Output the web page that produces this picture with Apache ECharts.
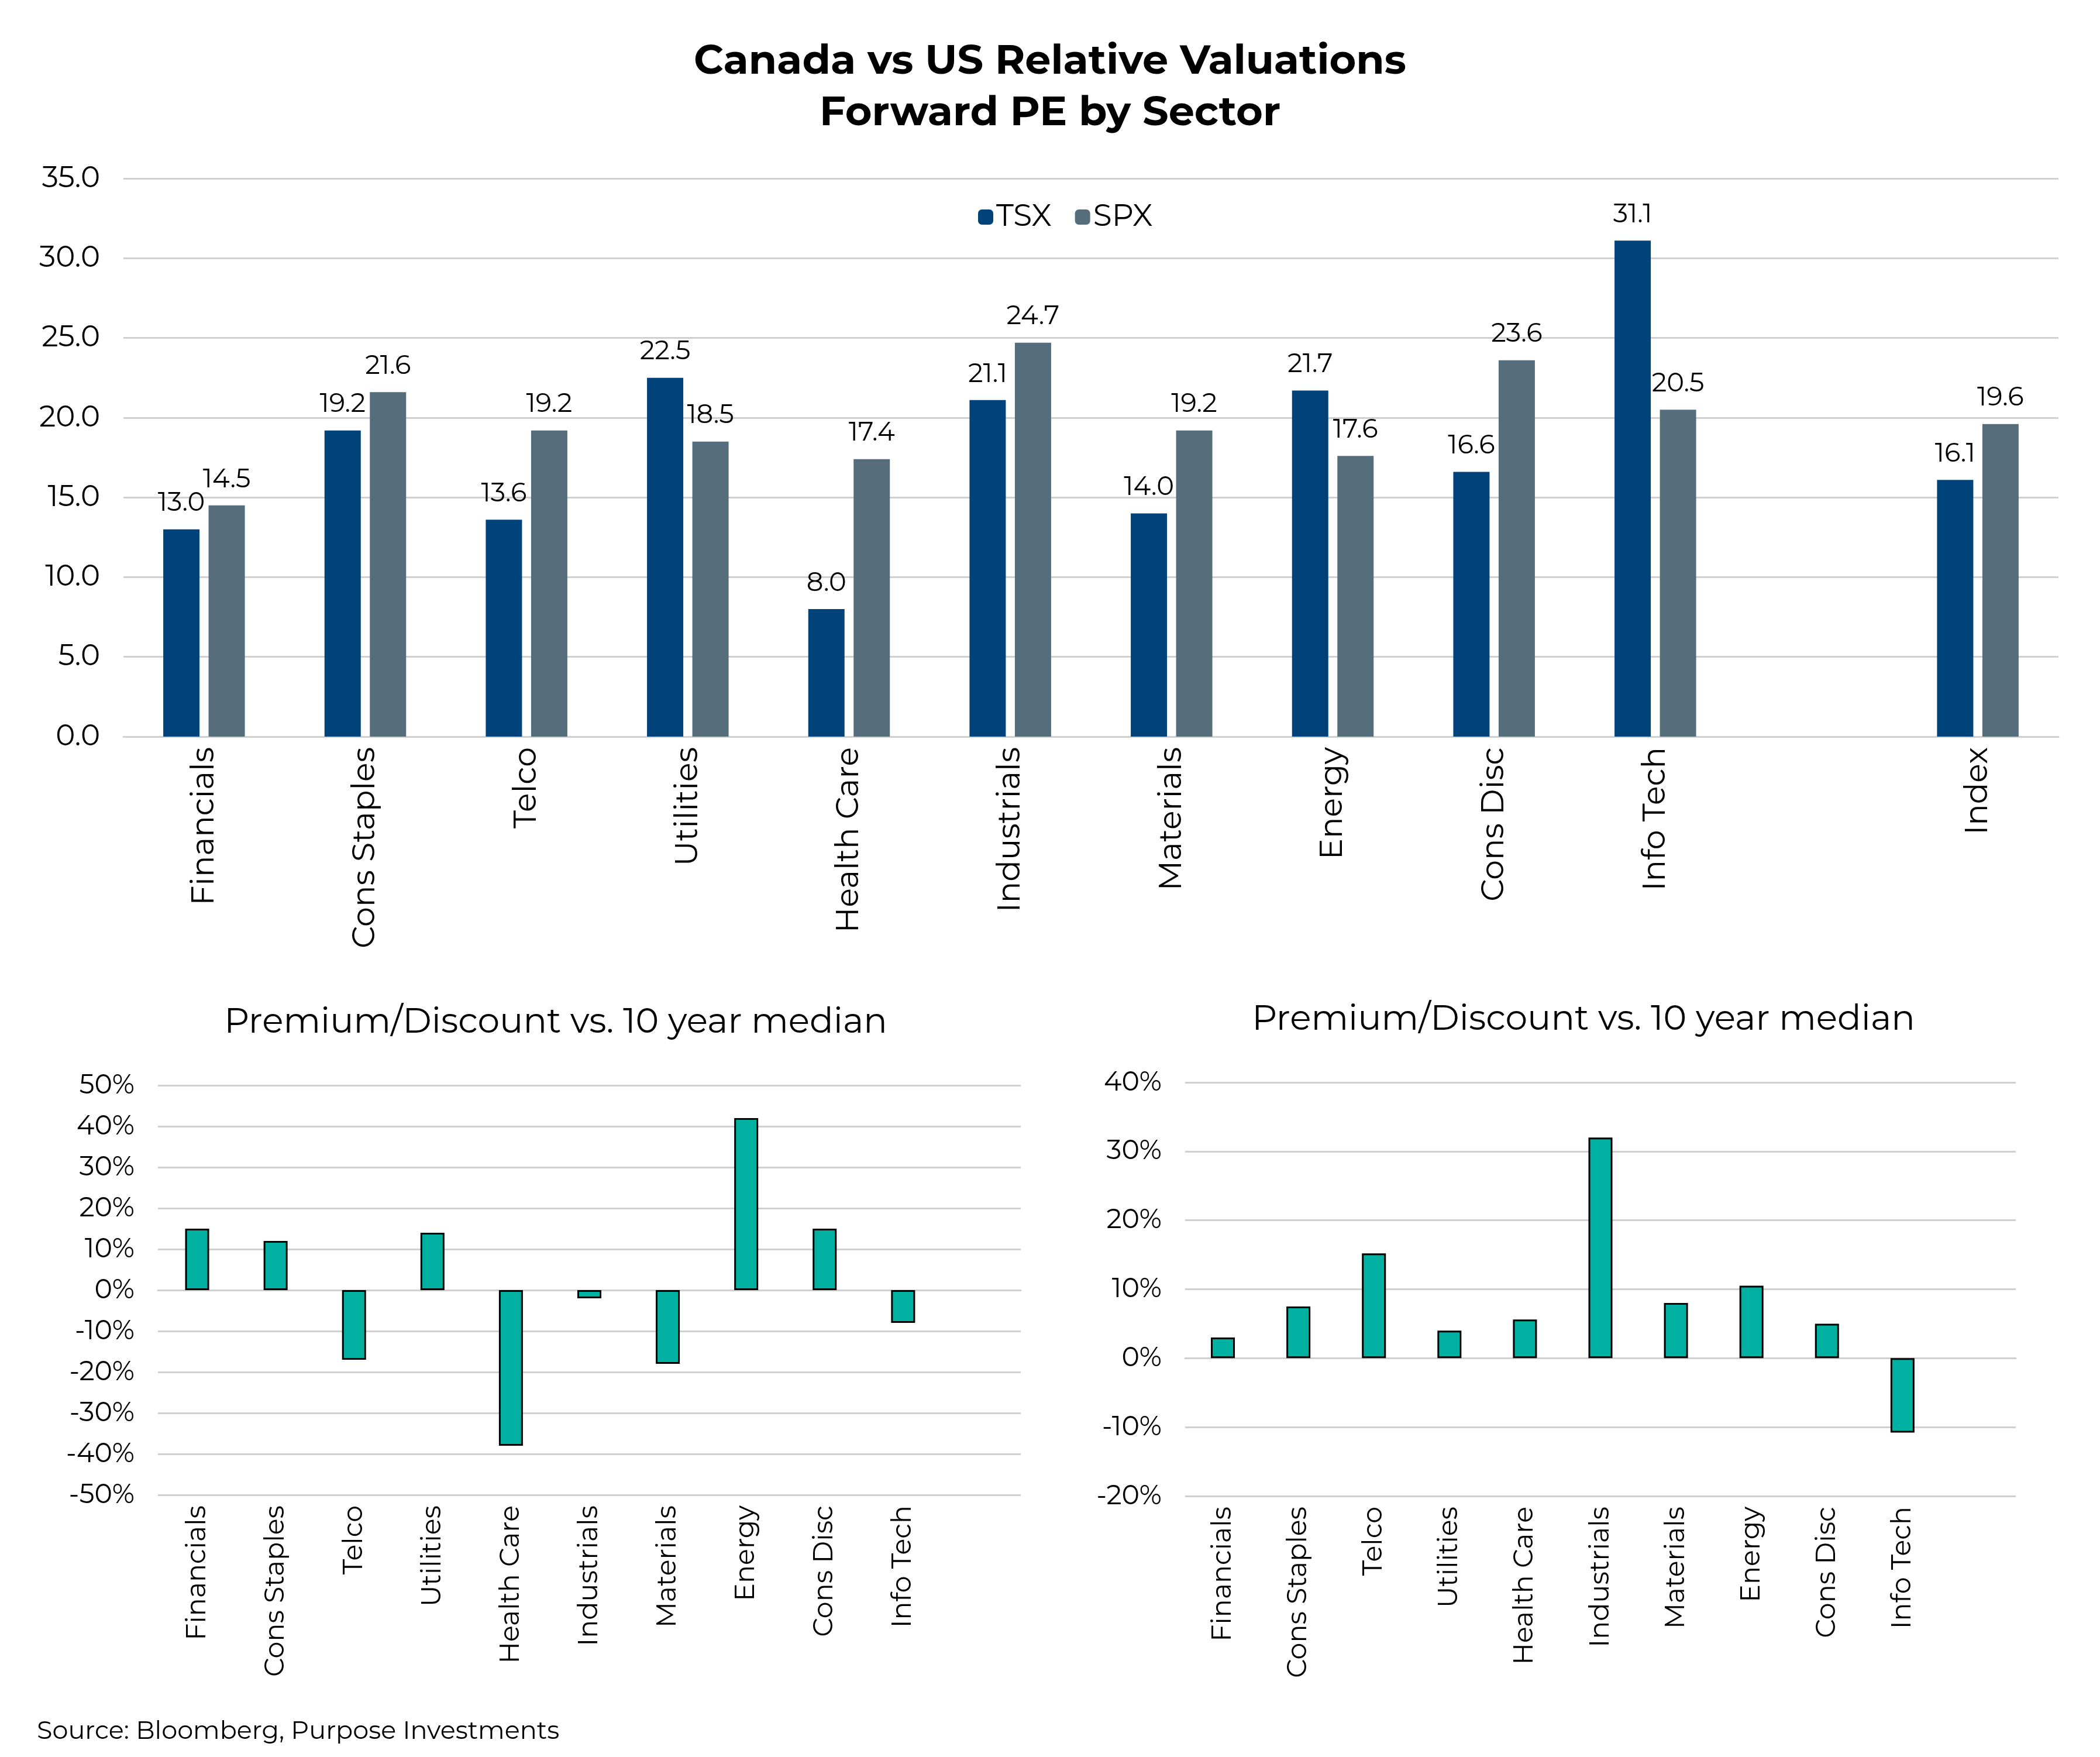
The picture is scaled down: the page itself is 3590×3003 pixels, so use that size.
<!DOCTYPE html>
<html><head><meta charset="utf-8">
<script src="https://cdn.jsdelivr.net/npm/echarts@6/dist/echarts.min.js"></script>
<style>html,body{margin:0;padding:0;background:#fff}#c{width:3590px;height:3003px}</style>
</head><body><div id="c"></div>
<script>
const topCats = ['Financials','Cons Staples','Telco','Utilities','Health Care','Industrials','Materials','Energy','Cons Disc','Info Tech','','Index'];
const tsx = [13.0,19.2,13.6,22.5,8.0,21.1,14.0,21.7,16.6,31.1,null,16.1];
const spx = [14.5,21.6,19.2,18.5,17.4,24.7,19.2,17.6,23.6,20.5,null,19.6];
const subCats = ['Financials','Cons Staples','Telco','Utilities','Health Care','Industrials','Materials','Energy','Cons Disc','Info Tech',''];
const tsxPrem = [15,12,-17,14,-38,-2,-18,42,15,-8,null];
const spxPrem = [3,7.5,15.2,4,5.6,32,8,10.5,5,-10.8,null];
const F = 'Montserrat, Inter, "Open Sans", sans-serif';
const chart = echarts.init(document.getElementById('c'));
const gridLine = {show:true,lineStyle:{color:'#d0d0d0',width:3}};
const catAxis = (idx,data,fs)=>({type:'category',gridIndex:idx,data:data,
  axisTick:{show:false},axisLine:{lineStyle:{color:'#d0d0d0',width:3}},
  axisLabel:{rotate:90,fontSize:fs,color:'#000',fontFamily:F,interval:0,margin:18}});
chart.setOption({
  animation:false,
  textStyle:{fontFamily:F},
  title:[
    {text:'Canada vs US Relative Valuations\nForward PE by Sector',left:'center',top:56,
     textStyle:{fontSize:70,fontWeight:'bold',lineHeight:88,color:'#000',fontFamily:F}},
    {text:'Premium/Discount vs. 10 year median',left:945,textAlign:'center',top:1712,
     textStyle:{fontSize:60,fontWeight:'normal',color:'#000',fontFamily:F}},
    {text:'Premium/Discount vs. 10 year median',left:2702,textAlign:'center',top:1707,
     textStyle:{fontSize:60,fontWeight:'normal',color:'#000',fontFamily:F}},
    {text:'Source: Bloomberg, Purpose Investments',left:58,top:2933,
     textStyle:{fontSize:43,fontWeight:'normal',color:'#000',fontFamily:F}}
  ],
  legend:{data:['TSX','SPX'],left:1667,top:340,itemWidth:26,itemHeight:26,itemGap:40,
    textStyle:{fontSize:52,color:'#000',fontFamily:F}},
  grid:[
    {left:211,right:71,top:305,height:954},
    {left:270,width:1475,top:1855,height:700},
    {left:2026,width:1420,top:1850,height:707}
  ],
  xAxis:[catAxis(0,topCats,54),catAxis(1,subCats,46),catAxis(2,subCats,46)],
  yAxis:[
    {type:'value',gridIndex:0,min:0,max:35,interval:5,splitLine:gridLine,
     axisLabel:{formatter:v=>v.toFixed(1),fontSize:50,color:'#000',fontFamily:F,margin:40}},
    {type:'value',gridIndex:1,min:-50,max:50,interval:10,splitLine:gridLine,
     axisLabel:{formatter:'{value}%',fontSize:46,color:'#000',fontFamily:F,margin:40}},
    {type:'value',gridIndex:2,min:-20,max:40,interval:10,splitLine:gridLine,
     axisLabel:{formatter:'{value}%',fontSize:46,color:'#000',fontFamily:F,margin:40}}
  ],
  series:[
    {name:'TSX',type:'bar',xAxisIndex:0,yAxisIndex:0,data:tsx,barWidth:62,barGap:'25%',
     itemStyle:{color:'#00427A'},
     label:{show:true,position:'top',distance:22,fontSize:45,color:'#000',fontFamily:F,formatter:p=>p.value.toFixed(1)}},
    {name:'SPX',type:'bar',xAxisIndex:0,yAxisIndex:0,data:spx,barWidth:62,
     itemStyle:{color:'#566D7B'},
     label:{show:true,position:'top',distance:22,fontSize:45,color:'#000',fontFamily:F,formatter:p=>p.value.toFixed(1)}},
    {type:'bar',xAxisIndex:1,yAxisIndex:1,data:tsxPrem,barWidth:41,
     itemStyle:{color:'#00B0A0',borderColor:'#000',borderWidth:3}},
    {type:'bar',xAxisIndex:2,yAxisIndex:2,data:spxPrem,barWidth:41,
     itemStyle:{color:'#00B0A0',borderColor:'#000',borderWidth:3}}
  ]
});
</script></body></html>
